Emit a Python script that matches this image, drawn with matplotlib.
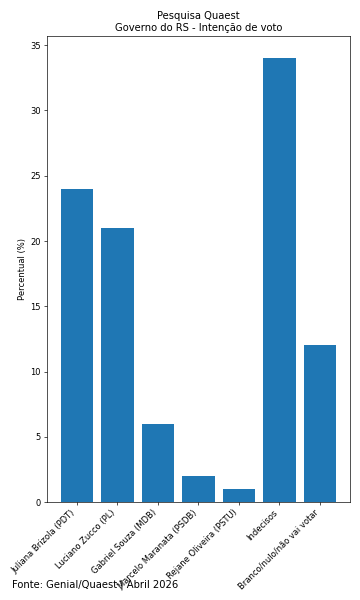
import matplotlib
matplotlib.use("Agg")
import matplotlib.pyplot as plt

# dados da pesquisa
candidatos = ['Juliana Brizola (PDT)', 'Luciano Zucco (PL)', 'Gabriel Souza (MDB)',
              'Marcelo Maranata (PSDB)', 'Rejane Oliveira (PSTU)', 'Indecisos',
              'Branco/nulo/não vai votar']
percentuais = [24, 21, 6, 2, 1, 34, 12]

fig, ax = plt.subplots(figsize=(6, 10), dpi=60)
ax.bar(candidatos, percentuais, color='#1f77b4')
ax.set_ylabel('Percentual (%)')
ax.set_title('Pesquisa Quaest\nGoverno do RS - Intenção de voto')
plt.xticks(rotation=45, ha='right')
fig.subplots_adjust(left=0.13, right=0.972, top=0.94, bottom=0.163)
fig.text(0.033, 0.02, 'Fonte: Genial/Quaest | Abril 2026', fontsize=12)
fig.savefig('out.png')
